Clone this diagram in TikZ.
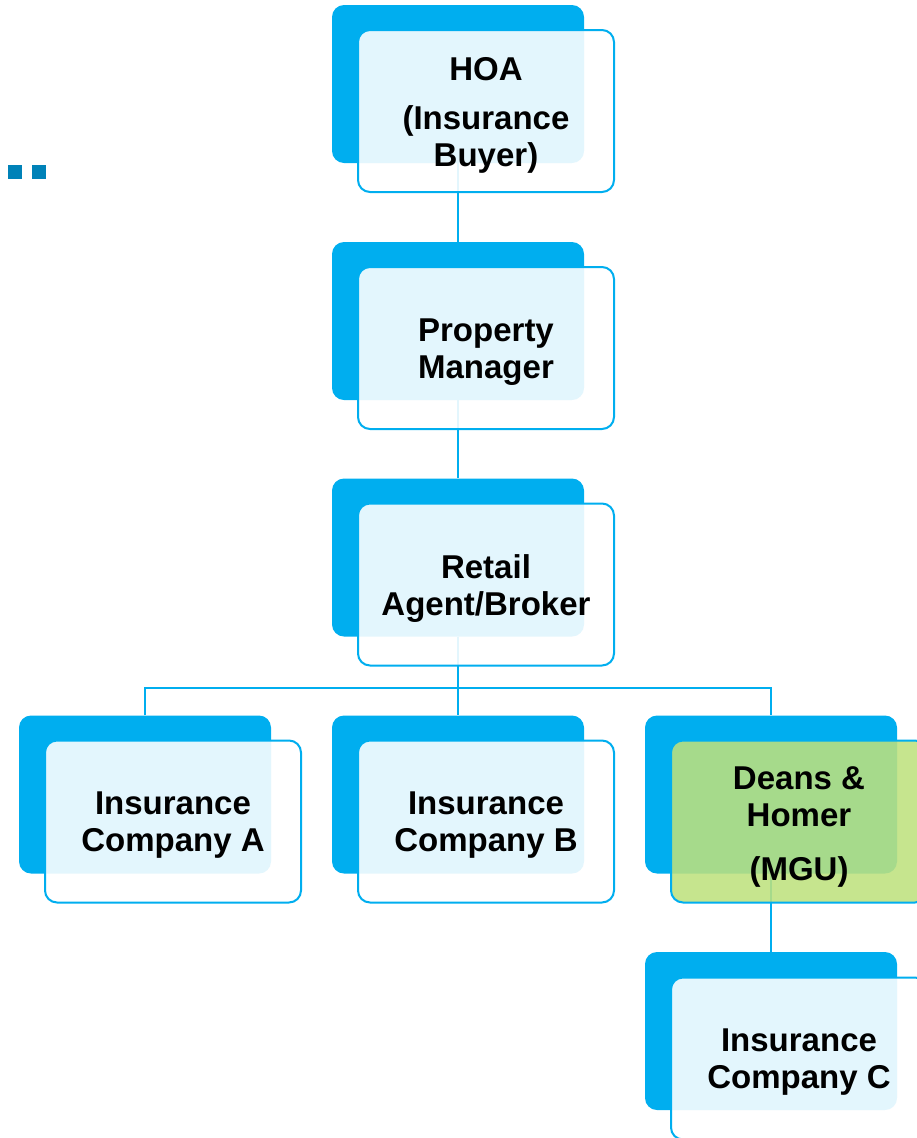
\documentclass[tikz,border=0pt]{standalone}
\usepackage{fontspec}
\setmainfont{Liberation Sans}
\usepackage{xcolor}
\usepackage{tikz}
\usetikzlibrary{calc,positioning}
\definecolor{accent}{RGB}{0,174,239}
\definecolor{accentdark}{RGB}{0,130,184}
\definecolor{mgugreen}{RGB}{190,225,126}

\begin{document}
\begin{tikzpicture}[x=1pt,y=-1pt,
    back/.style={rounded corners=12pt,fill=accent,minimum width=252pt,minimum height=158pt,inner sep=0pt},
    front/.style={rounded corners=12pt,draw=accent,line width=2pt,fill=white,fill opacity=0.89,
      minimum width=256pt,minimum height=162pt,inner sep=0pt},
    agency/.style={front,fill=mgugreen,fill opacity=0.88},
    txt/.style={align=center,inner sep=0pt,font=\fontsize{33}{37}\selectfont\bfseries},
    bullet/.style={fill=accentdark,minimum size=14pt,inner sep=0pt},
    ed/.style={draw=accent,line width=2pt}]
   \useasboundingbox (0,0) rectangle (916,1138);
   % two small squares on the left
   \node[bullet] (m1) at (14.5,172) {};
   \node[bullet] (m2) at (39,172)   {};
   % blue backing boxes
   \node[back] (hoab) at (458,84)     {};
   \node[back] (pmb)  at (458,321)    {};
   \node[back] (rab)  at (458,557.5)  {};
   \node[back] (cab)  at (145,794.5)  {};
   \node[back] (cbb)  at (458,794.5)  {};
   \node[back] (dhb)  at (771,794.5)  {};
   \node[back] (ccb)  at (771,1031)   {};
   % connectors, under the front boxes
   \draw[ed] (hoab)--(pmb);
   \draw[ed] (pmb)--(rab);
   \draw[ed] (rab)--(cbb);
   \draw[ed] (cab.north) -- ++(0,-27) -| (dhb.north);
   \draw[ed] (dhb)--(ccb);
   % front boxes
   \node[front]  (hoa) at (486,111)    {};
   \node[front]  (pm)  at (486,348)    {};
   \node[front]  (ra)  at (486,584.5)  {};
   \node[front]  (ca)  at (173,821.5)  {};
   \node[front]  (cb)  at (486,821.5)  {};
   \node[agency] (dh)  at (799,821.5)  {};
   \node[front]  (cc)  at (799,1058.5) {};
   % text, a bit below the box centres
   \node[txt] (hoat) at ($(hoa)+(0,4)$) {HOA\\[12pt](Insurance\\Buyer)};
   \node[txt] (pmt)  at ($(pm)+(0,4)$)  {Property\\Manager};
   \node[txt] (rat)  at ($(ra)+(0,4)$)  {Retail\\Agent/Broker};
   \node[txt] (cat)  at ($(ca)+(0,4)$)  {Insurance\\Company A};
   \node[txt] (cbt)  at ($(cb)+(0,4)$)  {Insurance\\Company B};
   \node[txt] (dht)  at ($(dh)+(0,5)$)  {Deans \&\\Homer\\[17pt](MGU)};
   \node[txt] (cct)  at ($(cc)+(0,4)$)  {Insurance\\Company C};
  \end{tikzpicture}
\end{document}
